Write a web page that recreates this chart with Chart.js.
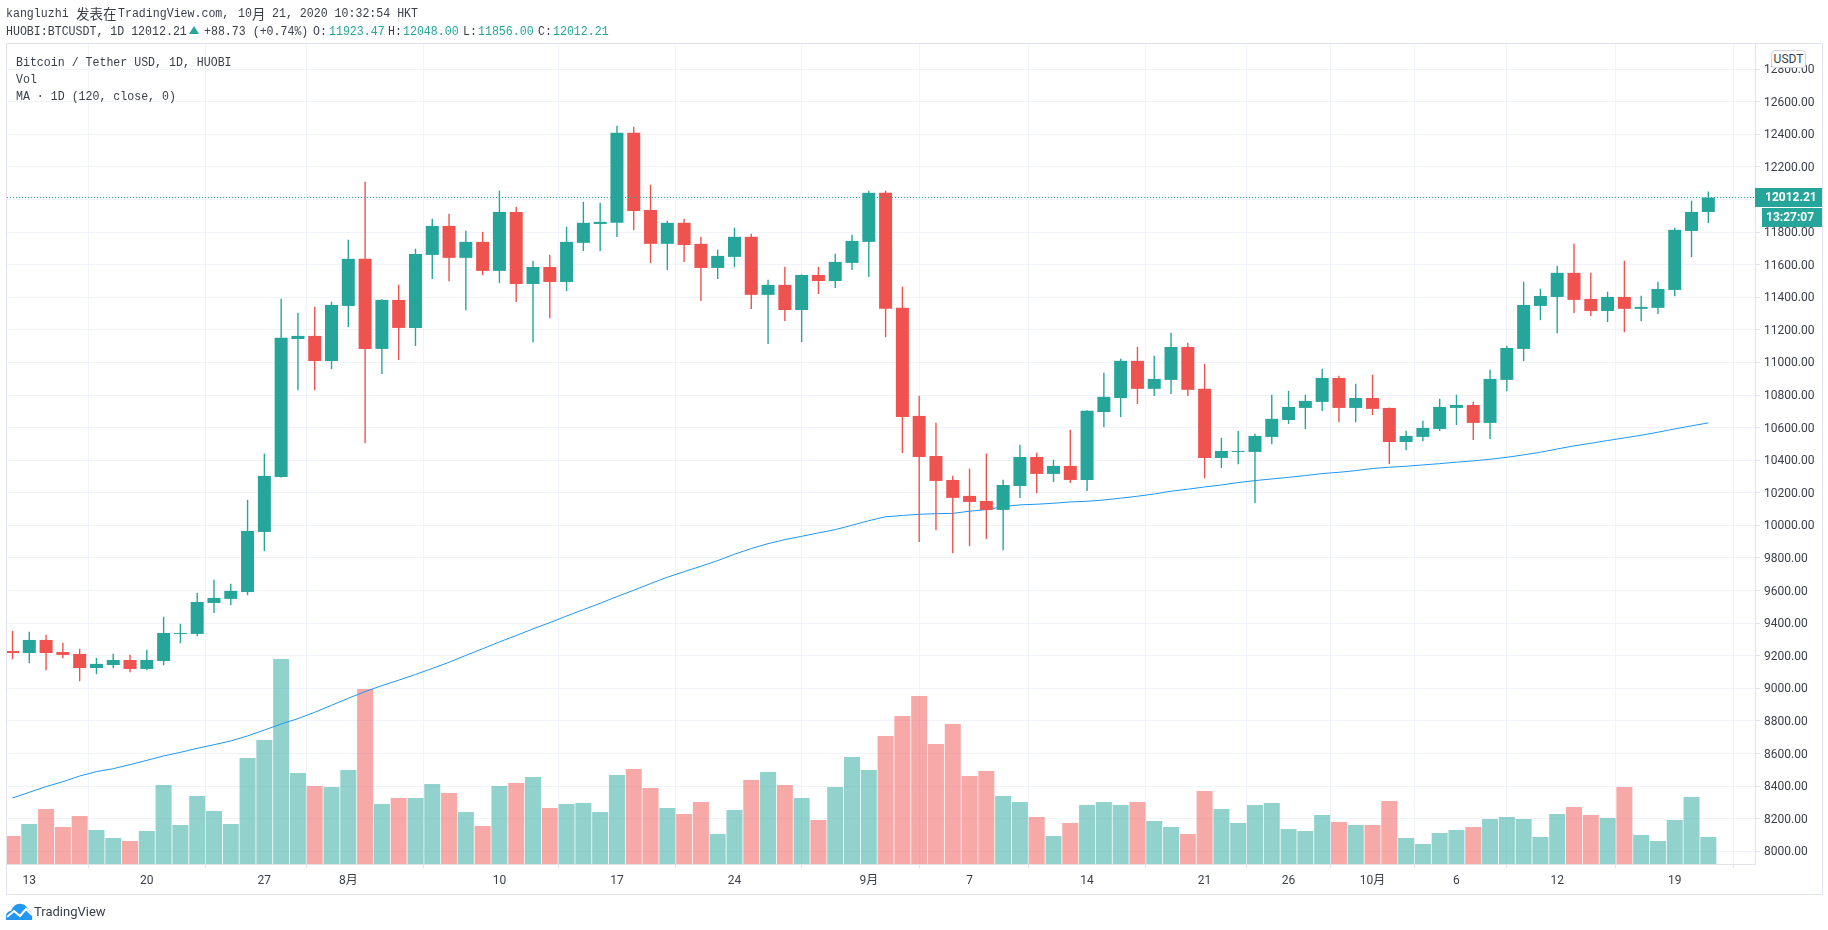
<!DOCTYPE html>
<html lang="zh">
<head>
<meta charset="utf-8">
<title>BTCUSDT</title>
<script src="https://cdn.jsdelivr.net/npm/chart.js@4/dist/chart.umd.js"></script>
<style>
html,body{margin:0;padding:0;background:#fff;width:1828px;height:930px;overflow:hidden}
#frame{position:absolute;left:6px;top:43px;width:1815px;height:850px;border:1px solid #e0e3eb;box-sizing:content-box}
canvas{position:absolute;left:0;top:0}
.t{position:absolute;white-space:nowrap;color:#3a3e4a;height:16px}
.m{font:12.5px/16px "Liberation Mono",monospace;transform:scaleX(.927);transform-origin:0 50%}
.c{font:13.5px/16px "Noto Sans CJK SC",sans-serif}
.g{color:#26a69a}
.box{position:absolute;background:#26a69a;color:#fff;font:bold 12px/19px Roboto,sans-serif;height:19px;box-sizing:border-box}
#unit{position:absolute;left:1771px;top:50px;width:35px;height:18px;background:#fff;border:1px solid #d1d4dc;border-radius:4px;box-sizing:border-box;font:12px/16px Roboto,sans-serif;text-align:center;color:#3a3e4a}
#tri{position:absolute;left:189px;top:26px;width:0;height:0;border-left:5.5px solid transparent;border-right:5.5px solid transparent;border-bottom:8px solid #26a69a}
#logo{position:absolute;left:6px;top:903px}
#brand{position:absolute;left:34px;top:903px;font:13px/18px Roboto,sans-serif;color:#3a3e4a}
</style>
</head>
<body>
<div id="frame"></div>
<canvas id="c" width="1828" height="930"></canvas>

<span class="t m" style="left:6px;top:6px">kangluzhi</span>
<span class="t c" style="left:76px;top:5px">发表在</span>
<span class="t m" style="left:117.5px;top:6px">TradingView.com,</span>
<span class="t m" style="left:238px;top:6px">10</span>
<span class="t c" style="left:252px;top:5px">月</span>
<span class="t m" style="left:272px;top:6px">21, 2020 10:32:54 HKT</span>

<span class="t m" style="left:6px;top:24px">HUOBI:BTCUSDT, 1D 12012.21</span>
<div id="tri"></div>
<span class="t m" style="left:204px;top:24px">+88.73 (+0.74%)</span>
<span class="t m" style="left:313px;top:24px">O:</span><span class="t m g" style="left:328.5px;top:24px">11923.47</span>
<span class="t m" style="left:388px;top:24px">H:</span><span class="t m g" style="left:403px;top:24px">12048.00</span>
<span class="t m" style="left:462.5px;top:24px">L:</span><span class="t m g" style="left:478px;top:24px">11856.00</span>
<span class="t m" style="left:537.5px;top:24px">C:</span><span class="t m g" style="left:553px;top:24px">12012.21</span>

<span class="t m" style="left:15.5px;top:55px">Bitcoin / Tether USD, 1D, HUOBI</span>
<span class="t m" style="left:15.5px;top:72px">Vol</span>
<span class="t m" style="left:15.5px;top:89px">MA · 1D (120, close, 0)</span>

<div id="unit">USDT</div>
<div class="box" style="left:1755px;top:188px;width:67px;padding-left:10px">12012.21</div>
<div class="box" style="left:1762px;top:208px;width:60px;padding-left:4px">13:27:07</div>

<svg id="logo" width="27" height="17" viewBox="0 0 27 17"><path fill="#2196f3" d="M0 17 C-1 12 1 8 5 8 C7 3 11 0 15 1 C19 1 21 4 22 7 C25 8 27 11 26 17 Z"/><path fill="none" stroke="#fff" stroke-width="2" d="M1 14 L8 8 L14 13 L20 6 L26 12"/></svg>
<span id="brand">TradingView</span>

<script>
const opens=[9229,9217,9297,9223,9211,9125,9143,9174,9119,9168,9334,9334,9524,9549,9591,9960,10297,11144,11163,11009,11347,11636,11083,11384,11212,11660,11838,11642,11740,11562,11924,11482,11586,11494,11734,11850,11857,12409,11936,11728,11857,11728,11580,11648,11771,11415,11476,11322,11537,11500,11611,11740,12041,11335,10672,10426,10279,10181,10150,10095,10242,10420,10316,10365,10279,10696,10782,11010,10838,10893,11095,10838,10414,10451,10451,10543,10647,10721,10758,10905,10721,10782,10721,10512,10543,10592,10721,10739,10629,10893,11083,11347,11402,11550,11390,11316,11402,11329,11335,11445,11807,11923.47];
const highs=[9352,9346,9328,9278,9242,9186,9211,9205,9236,9438,9395,9585,9665,9641,10156,10439,11390,11304,11341,11372,11752,12108,11386,11476,11697,11881,11912,11807,11801,12053,11955,11623,11660,11832,11985,11979,12452,12446,12090,11869,11881,11771,11691,11826,11789,11507,11586,11539,11586,11666,11783,12053,12053,11464,10795,10629,10304,10347,10439,10279,10494,10445,10402,10586,10705,10936,11022,11095,11040,11181,11120,10991,10537,10580,10561,10801,10825,10801,10960,10917,10868,10924,10722,10580,10641,10776,10801,10758,10954,11102,11494,11451,11593,11728,11550,11433,11623,11408,11494,11826,11992,12048];
const lows=[9180,9156,9113,9186,9045,9088,9125,9100,9113,9143,9278,9321,9463,9512,9573,9843,10295,10831,10831,10960,11218,10506,10930,11016,11102,11513,11500,11322,11537,11488,11372,11126,11273,11439,11685,11685,11771,11814,11611,11568,11617,11378,11513,11586,11329,11114,11255,11126,11421,11458,11568,11525,11157,10445,9899,9972,9831,9874,9917,9849,10169,10199,10267,10261,10212,10604,10666,10746,10795,10807,10795,10291,10353,10377,10138,10500,10623,10592,10703,10635,10635,10678,10377,10463,10518,10580,10617,10525,10531,10825,11010,11261,11181,11304,11286,11249,11187,11255,11298,11408,11648,11856];
const closes=[9217,9297,9217,9205,9125,9150,9174,9119,9174,9340,9340,9530,9555,9598,9966,10304,11151,11163,11009,11353,11636,11083,11384,11212,11666,11838,11642,11740,11562,11924,11482,11586,11494,11740,11857,11863,12409,11930,11728,11857,11721,11580,11654,11771,11415,11476,11322,11537,11500,11617,11746,12041,11329,10666,10420,10273,10169,10144,10095,10248,10420,10316,10365,10279,10703,10789,11010,10838,10899,11095,10832,10414,10457,10457,10549,10654,10727,10764,10905,10721,10782,10715,10512,10549,10598,10727,10739,10629,10899,11089,11353,11408,11550,11384,11316,11402,11329,11341,11451,11814,11924,12012.21];
const volumes=[28,40,55,37,48,34,26,23,33,79,39,68,53,40,106,124,205,91,78,77,94,175,60,66,66,80,71,52,38,78,81,87,56,60,61,52,89,95,76,56,50,62,30,54,84,92,79,66,44,77,107,94,128,148,168,120,140,88,93,68,62,47,28,41,59,62,59,62,43,37,30,73,55,41,59,61,35,33,49,42,39,39,63,26,20,31,34,37,45,47,45,27,50,57,49,46,77,29,23,44,67,27];
const ma120=[8327,8362,8397,8427,8462,8489,8507,8532,8558,8585,8607,8632,8654,8677,8708,8744,8781,8814,8853,8896,8939,8980,9017,9050,9085,9122,9160,9202,9243,9285,9324,9365,9403,9444,9483,9522,9563,9602,9643,9682,9716,9749,9784,9823,9858,9888,9913,9933,9954,9974,10001,10029,10053,10061,10068,10072,10074,10087,10097,10115,10126,10130,10136,10144,10148,10156,10167,10179,10193,10210,10222,10236,10248,10263,10275,10285,10295,10306,10318,10326,10336,10349,10357,10363,10371,10379,10388,10396,10406,10418,10433,10449,10469,10488,10504,10521,10537,10553,10572,10592,10611,10629];
const tickIndex=[1,8,15,20,29,36,43,51,57,64,71,76,81,86,92,99];
const tickLabels=["13","20","27","8月","10","17","24","9月","7","14","21","26","10月","6","12","19"];
const priceTicks=[8000,8200,8400,8600,8800,9000,9200,9400,9600,9800,10000,10200,10400,10600,10800,11000,11200,11400,11600,11800,12000,12200,12400,12600,12800];
const lastPrice=12012.21;
const xRange=[-0.3276,103.78];
const priceRange=[7922,12954.4];
const volumeRange=[0,820];

const UP='#26a69a',DOWN='#ef5350',UPV='rgba(38,166,154,.5)',DOWNV='rgba(239,83,80,.5)';
const isUp=closes.map((c,i)=>c>=opens[i]);
const idx=opens.map((_,i)=>i);

new Chart(document.getElementById('c'),{
  type:'bar',
  data:{datasets:[
    {type:'line',label:'Last',yAxisID:'y',order:1,data:xRange.map(x=>({x,y:lastPrice})),borderColor:UP,borderWidth:1.2,borderDash:[1,2],pointRadius:0},
    {type:'bar',label:'Body',yAxisID:'y',order:2,grouped:false,barThickness:13,inflateAmount:0,data:idx.map(i=>({x:i,y:[opens[i],closes[i]]})),backgroundColor:isUp.map(u=>u?UP:DOWN)},
    {type:'bar',label:'Wick',yAxisID:'y',order:3,grouped:false,barThickness:1,inflateAmount:0.2,data:idx.map(i=>({x:i,y:[lows[i],highs[i]]})),backgroundColor:isUp.map(u=>u?UP:DOWN)},
    {type:'line',label:'MA',yAxisID:'y',order:4,data:idx.map(i=>({x:i,y:ma120[i]})),borderColor:'#2196f3',borderWidth:1,pointRadius:0,tension:0},
    {type:'bar',label:'Vol',yAxisID:'v',order:5,grouped:false,barThickness:16,inflateAmount:0,data:idx.map(i=>({x:i,y:volumes[i]})),backgroundColor:isUp.map(u=>u?UPV:DOWNV)}
  ]},
  options:{
    responsive:false,animation:false,devicePixelRatio:1,
    layout:{padding:{left:7,top:44,right:6,bottom:37}},
    plugins:{legend:{display:false},tooltip:{enabled:false}},
    scales:{
      x:{type:'linear',min:xRange[0],max:xRange[1],offset:false,
        afterBuildTicks:s=>{s.ticks=tickIndex.map(value=>({value}));},
        afterFit:s=>{s.height=29;},
        grid:{color:'#f0f3fa',tickColor:'#e0e3eb',tickLength:4,lineWidth:1},
        border:{color:'#e0e3eb'},
        ticks:{autoSkip:false,maxRotation:0,padding:6,color:'#3a3e4a',font:{family:'Roboto,"Noto Sans CJK SC",sans-serif',size:12},
          callback:(v)=>tickLabels[tickIndex.indexOf(v)]}},
      y:{position:'right',min:priceRange[0],max:priceRange[1],
        afterBuildTicks:s=>{s.ticks=priceTicks.map(value=>({value}));},
        afterFit:s=>{s.width=67;},
        grid:{color:'#f0f3fa',tickColor:'#e0e3eb',tickLength:5,lineWidth:1},
        border:{color:'#e0e3eb'},
        ticks:{autoSkip:false,padding:4,labelOffset:1,color:'#3a3e4a',font:{family:'Roboto,sans-serif',size:12},callback:v=>v.toFixed(2)}},
      v:{display:false,min:volumeRange[0],max:volumeRange[1],grid:{display:false}}
    }
  }
});
</script>
</body>
</html>
